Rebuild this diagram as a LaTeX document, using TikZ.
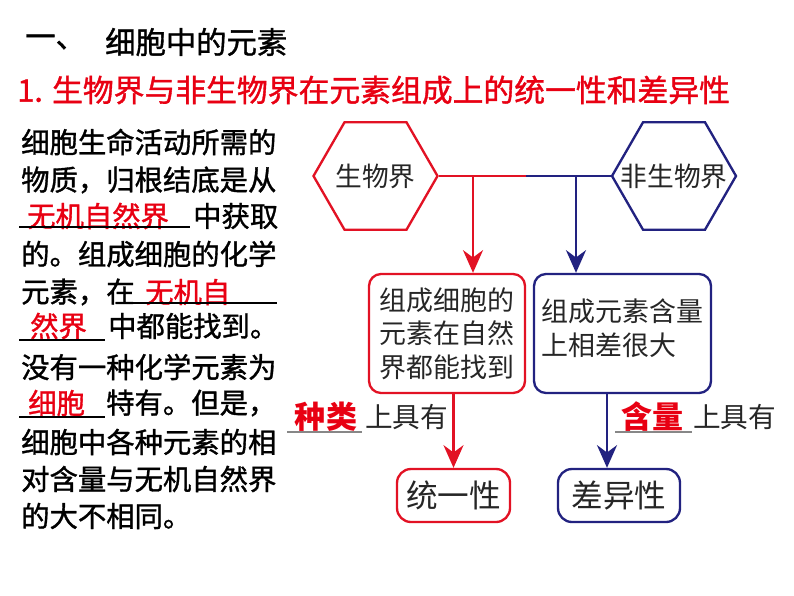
\documentclass[tikz,border=0pt]{standalone}
\usepackage{fontspec}
\newfontfamily\cjk{Noto Sans CJK SC}
\newfontfamily\cjkh[FakeBold=1.2]{Noto Sans CJK SC}
\usetikzlibrary{arrows.meta,shapes.geometric,positioning}
\definecolor{tred}{RGB}{232,0,18}
\definecolor{dred}{RGB}{226,18,36}
\definecolor{dblue}{RGB}{34,34,128}
\definecolor{uline}{RGB}{135,135,135}

\begin{document}
\begin{tikzpicture}[x=0.03cm,y=-0.03cm,
  txt/.style={inner sep=0pt,anchor=west,font=\cjkh\fontsize{24.2}{29}\selectfont},
  ans/.style={txt,text=tred},
  head/.style={inner sep=0pt,anchor=west,font=\cjkh\fontsize{25.9}{31}\selectfont},
  hexa/.style={regular polygon,regular polygon sides=6,
    minimum size=3.72cm,inner sep=0pt,line width=2pt},
  hexlabel/.style={inner sep=0pt,text=black!85,font=\cjk\fontsize{22.8}{27}\selectfont},
  box/.style={rounded corners=0.36cm,line width=2pt,align=left,inner sep=0pt,
    minimum height=3.57cm,text=black!85,font=\cjk\fontsize{23}{28.6}\selectfont},
  res/.style={rounded corners=0.42cm,line width=2pt,inner sep=0pt,
    minimum height=1.59cm,text=black!85,font=\cjk\fontsize{27}{32}\selectfont},
  key/.style={inner sep=0pt,text=tred,font=\cjk\bfseries\fontsize{26.5}{31}\selectfont},
  keyt/.style={inner sep=0pt,anchor=west,text=black!85,font=\cjk\fontsize{23.6}{28}\selectfont},
  tip/.style={-{Stealth[length=0.68cm,width=0.6cm,inset=0.22cm]}},
  blank/.style={line width=0.9pt},
]
  \useasboundingbox (0,0) rectangle (794,596);

  % heading
  \node[head] (t0) at (25,42) {一、};
  \node[head] (t1) at (105,42) {细胞中的元素};
  \node[head,text=tred,font=\cjkh\fontsize{26.3}{31}\selectfont] (t2) at (17,90)
    {1. 生物界与非生物界在元素组成上的统一性和差异性};

  % left text
  \node[txt] (p1) at (21,142) {细胞生命活动所需的};
  \node[txt] (p2) at (21,180) {物质，归根结底是从};
  \node[ans] (a1) at (27,216) {无机自然界};
  \node[txt] (p3) at (193,216) {中获取};
  \node[txt] (p4) at (21,254) {的。组成细胞的化学};
  \node[txt] (p5) at (21,292) {元素，在};
  \node[ans] (a2) at (145,292) {无机自};
  \node[ans] (a3) at (30,326) {然界};
  \node[txt] (p6) at (108,326) {中都能找到。};
  \node[txt] (p7) at (21,367) {没有一种化学元素为};
  \node[ans] (a4) at (28,403) {细胞};
  \node[txt] (p8) at (106,403) {特有。但是，};
  \node[txt] (p9) at (21,442) {细胞中各种元素的相};
  \node[txt] (p10) at (21,479) {对含量与无机自然界};
  \node[txt] (p11) at (21,516) {的大不相同。};
  \draw[blank] (19,227) -- (190,227) (133,303) -- (277,303)
    (19,340) -- (105,340) (19,417) -- (105,417);

  % diagram
  \node[hexa,draw=dred] (hbio) at (375.5,176) {};
  \node[hexlabel] (hbiot) at (hbio.center) {生物界};
  \node[hexa,draw=dblue] (hnon) at (674,176) {};
  \node[hexlabel] (hnont) at (hnon.center) {非生物界};
  \node[box,draw=dred,minimum width=4.68cm] (bcell) at (447,333.5)
    {组成细胞的\\元素在自然\\界都能找到};
  \node[box,draw=dblue,minimum width=5.31cm,text depth=11pt] (bamount) at (622.5,333.5)
    {组成元素含量\\上相差很大};
  \node[res,draw=dred,minimum width=3.39cm] (uni) at (453.5,495.5) {统一性};
  \node[res,draw=dblue,minimum width=3.66cm] (dif) at (619,495.5) {差异性};

  \node[key] (kind) at (326,417) {种类};
  \node[keyt] (kindt) at (365,417) {上具有};
  \node[key] (amt) at (652.5,417) {含量};
  \node[keyt] (amtt) at (693,417) {上具有};
  \draw[uline,line width=0.9pt] (287,432) -- (362,432) (615,432) -- (692,432);

  \coordinate (mid) at (526,176);
  \coordinate (jr) at (473,176);
  \coordinate (jb) at (576,176);
  \coordinate (jd) at (607,393);
  \draw[dred,line width=2pt] (hbio.east) -- (mid);
  \draw[dblue,line width=2pt] (mid) -- (hnon.west);
  \draw[dred,line width=2pt,tip] (jr) -- (jr |- bcell.north);
  \draw[dblue,line width=2pt,tip] (jb) -- (jb |- bamount.north);
  \draw[dred,line width=2pt,tip] (bcell.south -| uni.north) -- (uni.north);
  \draw[dblue,line width=2pt,tip] (jd) -- (jd |- dif.north);
\end{tikzpicture}
\end{document}
